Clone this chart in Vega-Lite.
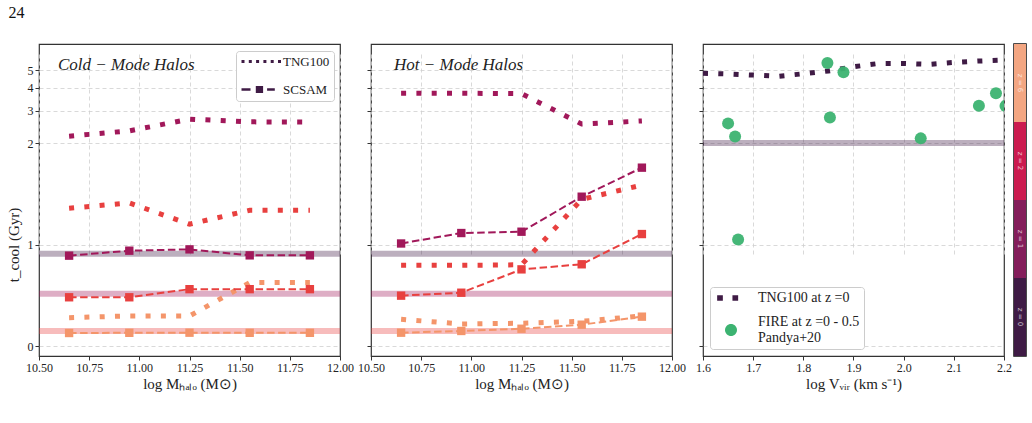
{
  "$schema": "https://vega.github.io/schema/vega-lite/v6.json",
  "padding": {"left": 5, "top": 5, "right": 5, "bottom": 5},
  "title": {"text": "24", "anchor": "start", "frame": "bounds", "fontSize": 16, "offset": 22, "dx": 3, "color": "#111111"},
  "datasets": {
    "mass": [
      {"panel": "Cold", "sim": "TNG100", "z": 0, "logM": 10.65, "t": 2.18},
      {"panel": "Cold", "sim": "TNG100", "z": 0, "logM": 10.95, "t": 2.33},
      {"panel": "Cold", "sim": "TNG100", "z": 0, "logM": 11.25, "t": 2.70},
      {"panel": "Cold", "sim": "TNG100", "z": 0, "logM": 11.55, "t": 2.61},
      {"panel": "Cold", "sim": "TNG100", "z": 0, "logM": 11.85, "t": 2.60},
      {"panel": "Cold", "sim": "TNG100", "z": 1, "logM": 10.65, "t": 1.357},
      {"panel": "Cold", "sim": "TNG100", "z": 1, "logM": 10.95, "t": 1.41},
      {"panel": "Cold", "sim": "TNG100", "z": 1, "logM": 11.25, "t": 1.20},
      {"panel": "Cold", "sim": "TNG100", "z": 1, "logM": 11.55, "t": 1.337},
      {"panel": "Cold", "sim": "TNG100", "z": 1, "logM": 11.85, "t": 1.337},
      {"panel": "Cold", "sim": "TNG100", "z": 2, "logM": 10.65, "t": 0.279},
      {"panel": "Cold", "sim": "TNG100", "z": 2, "logM": 10.95, "t": 0.296},
      {"panel": "Cold", "sim": "TNG100", "z": 2, "logM": 11.25, "t": 0.296},
      {"panel": "Cold", "sim": "TNG100", "z": 2, "logM": 11.55, "t": 0.625},
      {"panel": "Cold", "sim": "TNG100", "z": 2, "logM": 11.85, "t": 0.625},
      {"panel": "Cold", "sim": "SCSAM", "z": 0, "logM": 10.65, "t": 0.89},
      {"panel": "Cold", "sim": "SCSAM", "z": 0, "logM": 10.95, "t": 0.939},
      {"panel": "Cold", "sim": "SCSAM", "z": 0, "logM": 11.25, "t": 0.952},
      {"panel": "Cold", "sim": "SCSAM", "z": 0, "logM": 11.55, "t": 0.893},
      {"panel": "Cold", "sim": "SCSAM", "z": 0, "logM": 11.85, "t": 0.893},
      {"panel": "Cold", "sim": "SCSAM", "z": 1, "logM": 10.65, "t": 0.48},
      {"panel": "Cold", "sim": "SCSAM", "z": 1, "logM": 10.95, "t": 0.48},
      {"panel": "Cold", "sim": "SCSAM", "z": 1, "logM": 11.25, "t": 0.56},
      {"panel": "Cold", "sim": "SCSAM", "z": 1, "logM": 11.55, "t": 0.56},
      {"panel": "Cold", "sim": "SCSAM", "z": 1, "logM": 11.85, "t": 0.56},
      {"panel": "Cold", "sim": "SCSAM", "z": 2, "logM": 10.65, "t": 0.128},
      {"panel": "Cold", "sim": "SCSAM", "z": 2, "logM": 10.95, "t": 0.13},
      {"panel": "Cold", "sim": "SCSAM", "z": 2, "logM": 11.25, "t": 0.131},
      {"panel": "Cold", "sim": "SCSAM", "z": 2, "logM": 11.55, "t": 0.13},
      {"panel": "Cold", "sim": "SCSAM", "z": 2, "logM": 11.85, "t": 0.13},
      {"panel": "Hot", "sim": "TNG100", "z": 0, "logM": 10.65, "t": 3.74},
      {"panel": "Hot", "sim": "TNG100", "z": 0, "logM": 10.95, "t": 3.74},
      {"panel": "Hot", "sim": "TNG100", "z": 0, "logM": 11.25, "t": 3.72},
      {"panel": "Hot", "sim": "TNG100", "z": 0, "logM": 11.55, "t": 2.54},
      {"panel": "Hot", "sim": "TNG100", "z": 0, "logM": 11.85, "t": 2.64},
      {"panel": "Hot", "sim": "TNG100", "z": 1, "logM": 10.65, "t": 0.795},
      {"panel": "Hot", "sim": "TNG100", "z": 1, "logM": 10.95, "t": 0.795},
      {"panel": "Hot", "sim": "TNG100", "z": 1, "logM": 11.25, "t": 0.80},
      {"panel": "Hot", "sim": "TNG100", "z": 1, "logM": 11.55, "t": 1.445},
      {"panel": "Hot", "sim": "TNG100", "z": 1, "logM": 11.85, "t": 1.585},
      {"panel": "Hot", "sim": "TNG100", "z": 2, "logM": 10.65, "t": 0.263},
      {"panel": "Hot", "sim": "TNG100", "z": 2, "logM": 10.95, "t": 0.217},
      {"panel": "Hot", "sim": "TNG100", "z": 2, "logM": 11.25, "t": 0.224},
      {"panel": "Hot", "sim": "TNG100", "z": 2, "logM": 11.55, "t": 0.243},
      {"panel": "Hot", "sim": "TNG100", "z": 2, "logM": 11.85, "t": 0.296},
      {"panel": "Hot", "sim": "SCSAM", "z": 0, "logM": 10.65, "t": 1.01},
      {"panel": "Hot", "sim": "SCSAM", "z": 0, "logM": 10.95, "t": 1.113},
      {"panel": "Hot", "sim": "SCSAM", "z": 0, "logM": 11.25, "t": 1.126},
      {"panel": "Hot", "sim": "SCSAM", "z": 0, "logM": 11.55, "t": 1.471},
      {"panel": "Hot", "sim": "SCSAM", "z": 0, "logM": 11.85, "t": 1.757},
      {"panel": "Hot", "sim": "SCSAM", "z": 1, "logM": 10.65, "t": 0.496},
      {"panel": "Hot", "sim": "SCSAM", "z": 1, "logM": 10.95, "t": 0.525},
      {"panel": "Hot", "sim": "SCSAM", "z": 1, "logM": 11.25, "t": 0.755},
      {"panel": "Hot", "sim": "SCSAM", "z": 1, "logM": 11.55, "t": 0.805},
      {"panel": "Hot", "sim": "SCSAM", "z": 1, "logM": 11.85, "t": 1.103},
      {"panel": "Hot", "sim": "SCSAM", "z": 2, "logM": 10.65, "t": 0.131},
      {"panel": "Hot", "sim": "SCSAM", "z": 2, "logM": 10.95, "t": 0.148},
      {"panel": "Hot", "sim": "SCSAM", "z": 2, "logM": 11.25, "t": 0.17},
      {"panel": "Hot", "sim": "SCSAM", "z": 2, "logM": 11.55, "t": 0.21},
      {"panel": "Hot", "sim": "SCSAM", "z": 2, "logM": 11.85, "t": 0.289}
    ],
    "bands": [
      {"panel": "Cold", "z": 0, "t": 0.91},
      {"panel": "Cold", "z": 1, "t": 0.515},
      {"panel": "Cold", "z": 2, "t": 0.148},
      {"panel": "Hot", "z": 0, "t": 0.91},
      {"panel": "Hot", "z": 1, "t": 0.515},
      {"panel": "Hot", "z": 2, "t": 0.148},
      {"panel": "V", "z": 0, "t": 2.0}
    ],
    "tngv": [
      {"logV": 1.60, "t": 4.81}, {"logV": 1.65, "t": 4.77}, {"logV": 1.70, "t": 4.70},
      {"logV": 1.75, "t": 4.63}, {"logV": 1.80, "t": 4.78}, {"logV": 1.85, "t": 4.95},
      {"logV": 1.90, "t": 5.22}, {"logV": 1.95, "t": 5.44}, {"logV": 2.00, "t": 5.44},
      {"logV": 2.05, "t": 5.38}, {"logV": 2.10, "t": 5.51}, {"logV": 2.15, "t": 5.61},
      {"logV": 2.20, "t": 5.68}
    ],
    "fire": [
      {"logV": 1.650, "t": 2.56}, {"logV": 1.664, "t": 2.17}, {"logV": 1.670, "t": 1.05},
      {"logV": 1.848, "t": 5.47}, {"logV": 1.853, "t": 2.76}, {"logV": 1.880, "t": 4.87},
      {"logV": 2.034, "t": 2.12}, {"logV": 2.150, "t": 3.20}, {"logV": 2.184, "t": 3.74},
      {"logV": 2.203, "t": 3.19}
    ],
    "legend1": [{"entry": "TNG100"}, {"entry": "SCSAM"}],
    "legend3": [{"entry": "TNG100 at z =0"}, {"entry": "FIRE"}],
    "cbar": [{"z": "z = 0"}, {"z": "z = 1"}, {"z": "z = 2"}, {"z": "z = 6"}]
  },
  "hconcat": [
    {
      "hconcat": [
        {
          "width": 301, "height": 312,
          "title": {"text": "Cold − Mode Halos", "anchor": "start", "frame": "group", "offset": -43, "dx": 19, "baseline": "alphabetic", "fontStyle": "italic", "fontSize": 17},
          "resolve": {"scale": {"y": "independent", "color": "independent", "shape": "independent", "stroke": "independent"}},
          "layer": [
            {"layer": [
              {"data": {"name": "bands"}, "transform": [{"filter": "datum.panel == 'Cold'"}],
               "mark": {"type": "rule", "strokeWidth": 6, "opacity": 0.35},
               "encoding": {
                 "y": {"field": "t", "type": "quantitative", "scale": {"domain": [0, 2], "range": [302, 99], "nice": false, "zero": false}, "axis": {"orient": "left", "values": [0, 1], "format": "d", "title": "t_cool (Gyr)", "grid": true}},
                 "stroke": {"field": "z", "type": "nominal", "scale": {"domain": [0, 1, 2], "range": ["#3f1b45", "#a1185a", "#e8403f"]}, "legend": null}}},
              {"data": {"name": "mass"}, "transform": [{"filter": "datum.panel == 'Cold' && datum.sim == 'TNG100' && datum.t < 2"}],
               "mark": {"type": "line", "strokeWidth": 5, "strokeDash": [5, 10.3]},
               "encoding": {
                 "x": {"field": "logM", "type": "quantitative", "scale": {"domain": [10.5, 12], "nice": false, "zero": false}, "axis": {"values": [10.5, 10.75, 11, 11.25, 11.5, 11.75, 12], "format": ".2f", "title": "log Mₕₐₗₒ (M⊙)", "labelFlush": false, "labelOverlap": false, "labelBound": false, "grid": true}},
                 "y": {"field": "t", "type": "quantitative"},
                 "color": {"field": "z", "type": "nominal", "scale": {"domain": [0, 1, 2], "range": ["#a1185a", "#e8403f", "#f4956a"]}, "legend": null}}},
              {"data": {"name": "mass"}, "transform": [{"filter": "datum.panel == 'Cold' && datum.sim == 'SCSAM'"}],
               "mark": {"type": "line", "strokeWidth": 2, "strokeDash": [7.5, 3.5]},
               "encoding": {
                 "x": {"field": "logM", "type": "quantitative"},
                 "y": {"field": "t", "type": "quantitative"},
                 "color": {"field": "z", "type": "nominal", "legend": null}}},
              {"data": {"name": "mass"}, "transform": [{"filter": "datum.panel == 'Cold' && datum.sim == 'SCSAM'"}],
               "mark": {"type": "point", "shape": "square", "filled": true, "size": 70, "opacity": 1},
               "encoding": {
                 "x": {"field": "logM", "type": "quantitative"},
                 "y": {"field": "t", "type": "quantitative"},
                 "color": {"field": "z", "type": "nominal", "legend": null}}}
            ]},
            {"layer": [
              {"data": {"name": "mass"}, "transform": [{"filter": "datum.panel == 'Cold' && datum.sim == 'TNG100' && datum.t >= 2"}],
               "mark": {"type": "line", "strokeWidth": 5, "strokeDash": [5, 10.3]},
               "encoding": {
                 "x": {"field": "logM", "type": "quantitative"},
                 "y": {"field": "t", "type": "quantitative", "scale": {"type": "log", "domain": [2, 6.95], "range": [99, 0], "nice": false}, "axis": {"orient": "left", "values": [2, 3, 4, 5], "title": null, "grid": true}},
                 "color": {"field": "z", "type": "nominal", "scale": {"domain": [0, 1, 2], "range": ["#a1185a", "#e8403f", "#f4956a"]}, "legend": null}}}
            ]},
            {"data": {"name": "legend1"}, "transform": [{"filter": "false"}],
             "mark": {"type": "point", "filled": true, "opacity": 1},
             "encoding": {
               "shape": {"field": "entry", "type": "nominal", "scale": {"domain": ["TNG100", "SCSAM"], "range": ["M-1,-0.3h0.6v0.6h-0.6z M0.46,-0.3h0.6v0.6h-0.6z M1.92,-0.3h0.6v0.6h-0.6z M3.38,-0.3h0.6v0.6h-0.6z M4.84,-0.3h0.6v0.6h-0.6z M6.3,-0.3h0.6v0.6h-0.6z", "M-1,-0.24h1.8v0.48h-1.8z M1.86,-0.72h1.46v1.44h-1.46z M4.12,-0.24h1.54v0.48h-1.54z"]},
                 "legend": {"title": null, "orient": "none", "legendX": 197, "legendY": 7, "symbolSize": 100, "symbolStrokeWidth": 0, "labelFontSize": 13, "labelOffset": 30, "rowPadding": 14, "padding": 4, "fillColor": "#ffffff", "strokeColor": "#cccccc", "cornerRadius": 3, "labelColor": "#222222"}},
               "color": {"field": "entry", "type": "nominal", "scale": {"domain": ["TNG100", "SCSAM"], "range": ["#3f1b45", "#3f1b45"]},
                 "legend": {"title": null, "orient": "none", "legendX": 197, "legendY": 7, "symbolSize": 100, "symbolStrokeWidth": 0, "labelFontSize": 13, "labelOffset": 30, "rowPadding": 14, "padding": 4, "fillColor": "#ffffff", "strokeColor": "#cccccc", "cornerRadius": 3, "labelColor": "#222222"}}}}
          ]
        },
        {
          "width": 301, "height": 312,
          "title": {"text": "Hot − Mode Halos", "anchor": "start", "frame": "group", "offset": -43, "dx": 23, "baseline": "alphabetic", "fontStyle": "italic", "fontSize": 17},
          "resolve": {"scale": {"y": "independent", "color": "independent", "stroke": "independent"}},
          "layer": [
            {"layer": [
              {"data": {"name": "bands"}, "transform": [{"filter": "datum.panel == 'Hot'"}],
               "mark": {"type": "rule", "strokeWidth": 6, "opacity": 0.35},
               "encoding": {
                 "y": {"field": "t", "type": "quantitative", "scale": {"domain": [0, 2], "range": [302, 99], "nice": false, "zero": false}, "axis": {"orient": "left", "values": [0, 1], "title": null, "labels": false, "grid": true}},
                 "stroke": {"field": "z", "type": "nominal", "scale": {"domain": [0, 1, 2], "range": ["#3f1b45", "#a1185a", "#e8403f"]}, "legend": null}}},
              {"data": {"name": "mass"}, "transform": [{"filter": "datum.panel == 'Hot' && datum.sim == 'TNG100' && datum.t < 2"}],
               "mark": {"type": "line", "strokeWidth": 5, "strokeDash": [5, 10.3]},
               "encoding": {
                 "x": {"field": "logM", "type": "quantitative", "scale": {"domain": [10.5, 12], "nice": false, "zero": false}, "axis": {"values": [10.5, 10.75, 11, 11.25, 11.5, 11.75, 12], "format": ".2f", "title": "log Mₕₐₗₒ (M⊙)", "labelFlush": false, "labelOverlap": false, "labelBound": false, "grid": true}},
                 "y": {"field": "t", "type": "quantitative"},
                 "color": {"field": "z", "type": "nominal", "scale": {"domain": [0, 1, 2], "range": ["#a1185a", "#e8403f", "#f4956a"]}, "legend": null}}},
              {"data": {"name": "mass"}, "transform": [{"filter": "datum.panel == 'Hot' && datum.sim == 'SCSAM'"}],
               "mark": {"type": "line", "strokeWidth": 2, "strokeDash": [7.5, 3.5]},
               "encoding": {
                 "x": {"field": "logM", "type": "quantitative"},
                 "y": {"field": "t", "type": "quantitative"},
                 "color": {"field": "z", "type": "nominal", "legend": null}}},
              {"data": {"name": "mass"}, "transform": [{"filter": "datum.panel == 'Hot' && datum.sim == 'SCSAM'"}],
               "mark": {"type": "point", "shape": "square", "filled": true, "size": 70, "opacity": 1},
               "encoding": {
                 "x": {"field": "logM", "type": "quantitative"},
                 "y": {"field": "t", "type": "quantitative"},
                 "color": {"field": "z", "type": "nominal", "legend": null}}}
            ]},
            {"layer": [
              {"data": {"name": "mass"}, "transform": [{"filter": "datum.panel == 'Hot' && datum.sim == 'TNG100' && datum.t >= 2"}],
               "mark": {"type": "line", "strokeWidth": 5, "strokeDash": [5, 10.3]},
               "encoding": {
                 "x": {"field": "logM", "type": "quantitative"},
                 "y": {"field": "t", "type": "quantitative", "scale": {"type": "log", "domain": [2, 6.95], "range": [99, 0], "nice": false}, "axis": {"orient": "left", "values": [2, 3, 4, 5], "title": null, "labels": false, "grid": true}},
                 "color": {"field": "z", "type": "nominal", "scale": {"domain": [0, 1, 2], "range": ["#a1185a", "#e8403f", "#f4956a"]}, "legend": null}}}
            ]}
          ]
        },
        {
          "width": 301, "height": 312,
          "resolve": {"scale": {"y": "independent", "color": "independent", "shape": "independent", "stroke": "independent"}},
          "layer": [
            {"layer": [
              {"data": {"name": "fire"}, "transform": [{"filter": "datum.t < 2"}],
               "mark": {"type": "point", "shape": "circle", "filled": true, "size": 144, "opacity": 0.95, "color": "#3cb371", "clip": true},
               "encoding": {
                 "x": {"field": "logV", "type": "quantitative", "scale": {"domain": [1.6, 2.2], "nice": false, "zero": false}, "axis": {"values": [1.6, 1.7, 1.8, 1.9, 2.0, 2.1, 2.2], "format": ".1f", "title": "log Vᵥᵢᵣ (km s⁻¹)", "labelFlush": false, "labelOverlap": false, "labelBound": false, "grid": true}},
                 "y": {"field": "t", "type": "quantitative", "scale": {"domain": [0, 2], "range": [302, 99], "nice": false, "zero": false}, "axis": {"orient": "left", "values": [0, 1], "title": null, "labels": false, "grid": true}}}}
            ]},
            {"layer": [
              {"data": {"name": "bands"}, "transform": [{"filter": "datum.panel == 'V'"}],
               "mark": {"type": "rule", "strokeWidth": 6, "opacity": 0.35, "color": "#3f1b45"},
               "encoding": {
                 "y": {"field": "t", "type": "quantitative", "scale": {"type": "log", "domain": [2, 6.95], "range": [99, 0], "nice": false}, "axis": {"orient": "left", "values": [2, 3, 4, 5], "title": null, "labels": false, "grid": true}}}},
              {"data": {"name": "tngv"},
               "mark": {"type": "line", "strokeWidth": 5, "strokeDash": [5, 10.3], "color": "#3f1b45", "clip": true},
               "encoding": {
                 "x": {"field": "logV", "type": "quantitative"},
                 "y": {"field": "t", "type": "quantitative"}}},
              {"data": {"name": "fire"}, "transform": [{"filter": "datum.t >= 2"}],
               "mark": {"type": "point", "shape": "circle", "filled": true, "size": 144, "opacity": 0.95, "color": "#3cb371", "clip": true},
               "encoding": {
                 "x": {"field": "logV", "type": "quantitative"},
                 "y": {"field": "t", "type": "quantitative"}}}
            ]},
            {"data": {"name": "legend3"}, "transform": [{"filter": "false"}],
             "mark": {"type": "point", "filled": true, "opacity": 1},
             "encoding": {
               "shape": {"field": "entry", "type": "nominal", "scale": {"domain": ["TNG100 at z =0", "FIRE"], "range": ["M-0.77,-0.57h1.14v1.14h-1.14z M2.29,-0.57h1.14v1.14h-1.14z", "M3.2,1.6A1.2,1.2 0 1,1 0.8,1.6A1.2,1.2 0 1,1 3.2,1.6Z"]},
                 "legend": {"title": null, "orient": "none", "legendX": 7, "legendY": 243, "symbolSize": 100, "symbolStrokeWidth": 0, "labelFontSize": 14, "labelOffset": 30, "rowPadding": 10, "padding": 4, "fillColor": "#ffffff", "strokeColor": "#cccccc", "cornerRadius": 3, "labelColor": "#222222", "labelExpr": "datum.label == 'FIRE' ? ['FIRE at z =0 - 0.5', 'Pandya+20'] : datum.label"}},
               "color": {"field": "entry", "type": "nominal", "scale": {"domain": ["TNG100 at z =0", "FIRE"], "range": ["#3f1b45", "#3cb371"]},
                 "legend": {"title": null, "orient": "none", "legendX": 7, "legendY": 243, "symbolSize": 100, "symbolStrokeWidth": 0, "labelFontSize": 14, "labelOffset": 30, "rowPadding": 10, "padding": 4, "fillColor": "#ffffff", "strokeColor": "#cccccc", "cornerRadius": 3, "labelColor": "#222222", "labelExpr": "datum.label == 'FIRE' ? ['FIRE at z =0 - 0.5', 'Pandya+20'] : datum.label"}}}}
          ]
        }
      ],
      "spacing": 31,
      "bounds": "flush",
      "resolve": {"scale": {"color": "independent", "shape": "independent", "stroke": "independent"}}
    },
    {
      "width": 12, "height": 312,
      "data": {"name": "cbar"},
      "layer": [
        {"mark": {"type": "rect"},
         "encoding": {
           "y": {"field": "z", "type": "ordinal", "sort": ["z = 6", "z = 2", "z = 1", "z = 0"], "scale": {"paddingInner": 0, "paddingOuter": 0}, "axis": null},
           "color": {"field": "z", "type": "nominal", "scale": {"domain": ["z = 0", "z = 1", "z = 2", "z = 6"], "range": ["#3f1b45", "#841e5b", "#cb1b4f", "#f3a682"]}, "legend": null}}},
        {"mark": {"type": "text", "angle": 90, "fontSize": 7, "font": "DejaVu Sans", "color": "#ffffff", "opacity": 0.7},
         "encoding": {
           "y": {"field": "z", "type": "ordinal", "sort": ["z = 6", "z = 2", "z = 1", "z = 0"], "axis": null},
           "text": {"field": "z"}}}
      ],
      "view": {"stroke": "#111111", "strokeWidth": 1.5}
    }
  ],
  "spacing": 0,
  "bounds": "full",
  "resolve": {"scale": {"color": "independent", "shape": "independent", "stroke": "independent"}},
  "config": {
    "font": "Liberation Serif",
    "view": {"stroke": "#333333", "strokeWidth": 1.2},
    "title": {"font": "Liberation Serif", "fontWeight": "normal", "color": "#222222"},
    "axis": {"domain": false, "labelFont": "Liberation Serif", "labelFontSize": 12, "labelColor": "#222222", "titleFont": "Liberation Serif", "titleFontSize": 15, "titleFontWeight": "normal", "titleColor": "#222222", "tickColor": "#333333", "tickSize": 4, "tickWidth": 1, "gridColor": "#cfcfcf", "gridDash": [4, 3], "gridWidth": 0.8, "labelPadding": 2},
    "axisY": {"titlePadding": 6},
    "axisX": {"titlePadding": 3},
    "legend": {"labelFont": "Liberation Serif"}
  }
}
